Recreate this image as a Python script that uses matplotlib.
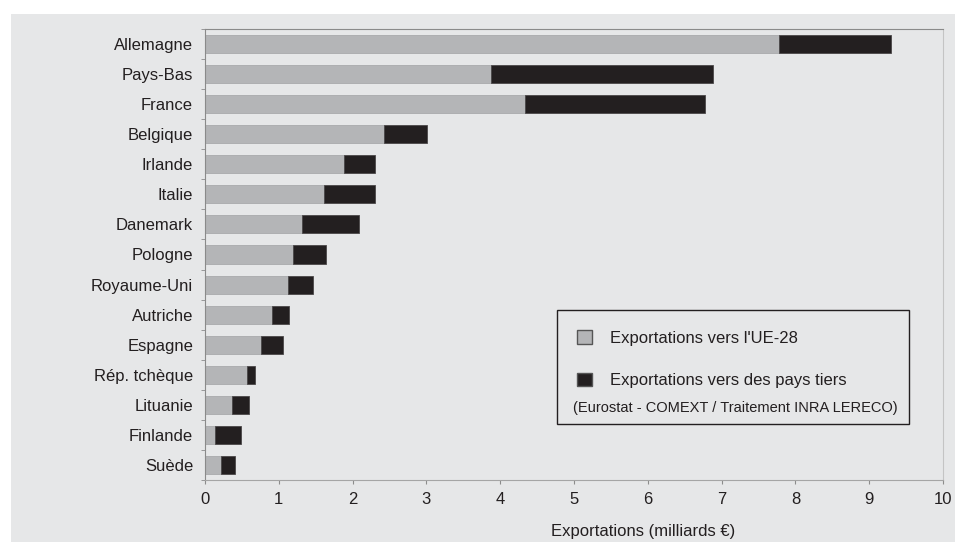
import matplotlib.pyplot as plt
import matplotlib.patches as mpatches
import numpy as np

plt.rcParams['font.family'] = ['Liberation Sans', 'DejaVu Sans']

# donnees (milliards d'euros)
pays = ['Allemagne', 'Pays-Bas', 'France', 'Belgique', 'Irlande', 'Italie',
        'Danemark', 'Pologne', 'Royaume-Uni', 'Autriche', 'Espagne',
        'Rép. tchèque', 'Lituanie', 'Finlande', 'Suède']
ue28 = [7.78, 3.88, 4.33, 2.42, 1.88, 1.61, 1.32, 1.19, 1.13, 0.91, 0.76, 0.57, 0.37, 0.13, 0.22]
tiers = [1.52, 3.00, 2.44, 0.59, 0.43, 0.69, 0.77, 0.45, 0.33, 0.23, 0.29, 0.11, 0.23, 0.36, 0.19]
xticks = list(range(0, 11))

bg = '#e6e7e8'
txt = '#231f20'

fig = plt.figure(figsize=(9.55, 5.42), dpi=100)
fig.patch.set_facecolor('white')
fig.add_artist(mpatches.Rectangle((11 / 955, 0), 1 - 11 / 955, 1 - 14 / 542,
                                  transform=fig.transFigure, facecolor=bg,
                                  edgecolor='none', zorder=-10))
ax = fig.add_axes([0.2147, 0.1144, 0.7727, 0.8321])
ax.set_facecolor(bg)

y = np.arange(len(pays))
b1 = ax.barh(y, ue28, height=0.6, color='#b4b5b7', edgecolor='#a9aaac', linewidth=0.6,
             label="Exportations vers l'UE-28")
b2 = ax.barh(y, tiers, left=ue28, height=0.6, color='#231f20', edgecolor='#4a4748',
             linewidth=0.6, label='Exportations vers des pays tiers')

ax.set_xlim(0, 10)
ax.set_ylim(len(pays) - 0.5, -0.5)
ax.set_xticks(xticks)
ax.set_yticks(y)
ax.set_yticklabels(pays)
ax.set_yticks(np.arange(len(pays) + 1) - 0.5, minor=True)
ax.tick_params(axis='y', which='major', length=0, pad=8.6, labelsize=12, labelcolor=txt)
ax.tick_params(axis='y', which='minor', length=3, color='#8c8c8c', direction='out')
ax.tick_params(axis='x', length=3, color='#8c8c8c', pad=6, labelsize=12, labelcolor=txt)
ax.set_xlabel('Exportations (milliards €)', fontsize=12, color=txt, labelpad=9)
ax.xaxis.set_label_coords(0.593, -0.098)

ax.spines['top'].set_color('#8a8a8a')
ax.spines['left'].set_color('#8a8a8a')
ax.spines['bottom'].set_color('#a5a5a5')
ax.spines['right'].set_color('#c4c4c4')

# cadre de la legende
ax.add_patch(mpatches.Rectangle((0.477, 0.124), 0.477, 0.253, transform=ax.transAxes,
                                facecolor='none', edgecolor='#231f20', linewidth=1.0,
                                zorder=5))
leg = ax.legend(handles=[b1, b2], loc='upper left', bbox_to_anchor=(0.504, 0.332),
                frameon=False, fontsize=12, borderpad=0, borderaxespad=0,
                handlelength=0.9, handleheight=0.9, handletextpad=1.1,
                labelspacing=1.6)
for t in leg.get_texts():
    t.set_color(txt)
for h in leg.legend_handles:
    h.set_edgecolor('#555555')
    h.set_linewidth(1.0)
ax.text(0.718, 0.160, '(Eurostat - COMEXT / Traitement INRA LERECO)', transform=ax.transAxes,
        ha='center', va='center', fontsize=10.5, color=txt)

fig.savefig('out.png', dpi=100)
